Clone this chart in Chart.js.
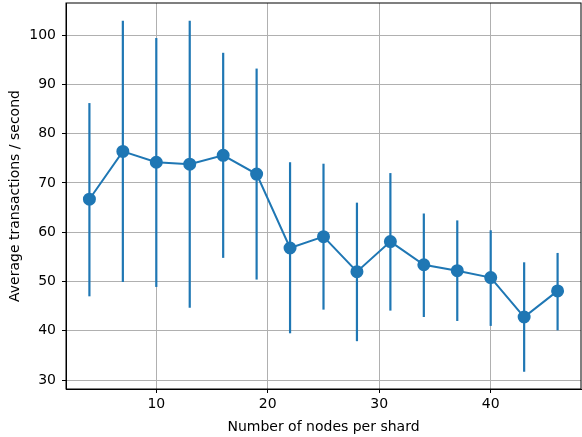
<!DOCTYPE html>
<html>
<head>
  <title>Transactions per shard size</title>
  <script src="https://cdn.jsdelivr.net/npm/chart.js"></script>
  <style>
    body { margin: 0; background: #fff; }
    #wrap { width: 582px; height: 437px; }
  </style>
</head>
<body>
  <div id="wrap"><canvas id="tpsChart"></canvas></div>
  <script>
    // nodes per shard and measured throughput (mean, lower, upper)
    const nodes = [4, 7, 10, 13, 16, 19, 22, 25, 28, 31, 34, 37, 40, 43, 46];
    const meanTps = [66.7, 76.4, 74.2, 73.8, 75.6, 71.8, 56.8, 59.1, 52.0, 58.1, 53.4, 52.2, 50.8, 42.8, 48.1];
    const lowTps = [47.0, 49.9, 48.9, 44.7, 54.8, 50.4, 39.5, 44.3, 37.9, 44.1, 42.8, 42.0, 41.0, 31.7, 40.1];
    const highTps = [86.2, 102.9, 99.4, 102.9, 96.4, 93.2, 74.2, 73.9, 66.0, 72.0, 63.8, 62.4, 60.4, 53.9, 55.8];
    const xTicks = [10, 20, 30, 40];
    const yTicks = [30, 40, 50, 60, 70, 80, 90, 100];

    const blue = '#1f77b4';
    const font = { family: 'DejaVu Sans', size: 14 };

    // vertical error bars + black frame round the plot
    const errorBars = {
      id: 'errorBars',
      beforeDatasetsDraw(chart) {
        const ctx = chart.ctx;
        const x = chart.scales.x, y = chart.scales.y;
        ctx.save();
        ctx.strokeStyle = blue;
        ctx.lineWidth = 2.2;
        nodes.forEach((n, i) => {
          const px = x.getPixelForValue(n);
          ctx.beginPath();
          ctx.moveTo(px, y.getPixelForValue(lowTps[i]));
          ctx.lineTo(px, y.getPixelForValue(highTps[i]));
          ctx.stroke();
        });
        ctx.restore();
      },
      afterDraw(chart) {
        const a = chart.chartArea, ctx = chart.ctx;
        ctx.save();
        ctx.strokeStyle = '#000';
        ctx.lineWidth = 1;
        ctx.strokeRect(a.left, a.top, a.right - a.left, a.bottom - a.top);
        ctx.restore();
      }
    };

    new Chart(document.getElementById('tpsChart'), {
      type: 'line',
      data: {
        datasets: [{
          data: nodes.map((n, i) => ({ x: n, y: meanTps[i] })),
          borderColor: blue,
          backgroundColor: blue,
          borderWidth: 2,
          pointRadius: 5.5,
          pointHoverRadius: 5.5,
          tension: 0
        }]
      },
      options: {
        responsive: true,
        maintainAspectRatio: false,
        animation: false,
        layout: { autoPadding: false, padding: { top: 3, right: 1, left: 0, bottom: 0 } },
        plugins: { legend: { display: false }, tooltip: { enabled: false } },
        scales: {
          x: {
            type: 'linear',
            min: 1.9,
            max: 48.1,
            afterBuildTicks: s => { s.ticks = xTicks.map(v => ({ value: v })); },
            afterFit: s => { s.height = 48; s.paddingLeft = 0; s.paddingRight = 0; },
            grid: { color: '#b0b0b0', lineWidth: 1, tickColor: '#000', tickLength: 4 },
            border: { color: '#000', width: 1 },
            ticks: { color: '#000', font: font, padding: 3, maxRotation: 0 },
            title: { display: true, text: 'Number of nodes per shard', color: '#000', font: font, padding: { top: 0, bottom: 1 } }
          },
          y: {
            min: 28.2,
            max: 106.5,
            afterBuildTicks: s => { s.ticks = yTicks.map(v => ({ value: v })); },
            afterFit: s => { s.width = 66; s.paddingTop = 0; s.paddingBottom = 0; },
            grid: { color: '#b0b0b0', lineWidth: 1, tickColor: '#000', tickLength: 4 },
            border: { color: '#000', width: 1 },
            ticks: { color: '#000', font: font, padding: 6 },
            title: { display: true, text: 'Average transactions / second', color: '#000', font: font, padding: { top: 7, bottom: 0 } }
          }
        }
      },
      plugins: [errorBars]
    });
  </script>
</body>
</html>
